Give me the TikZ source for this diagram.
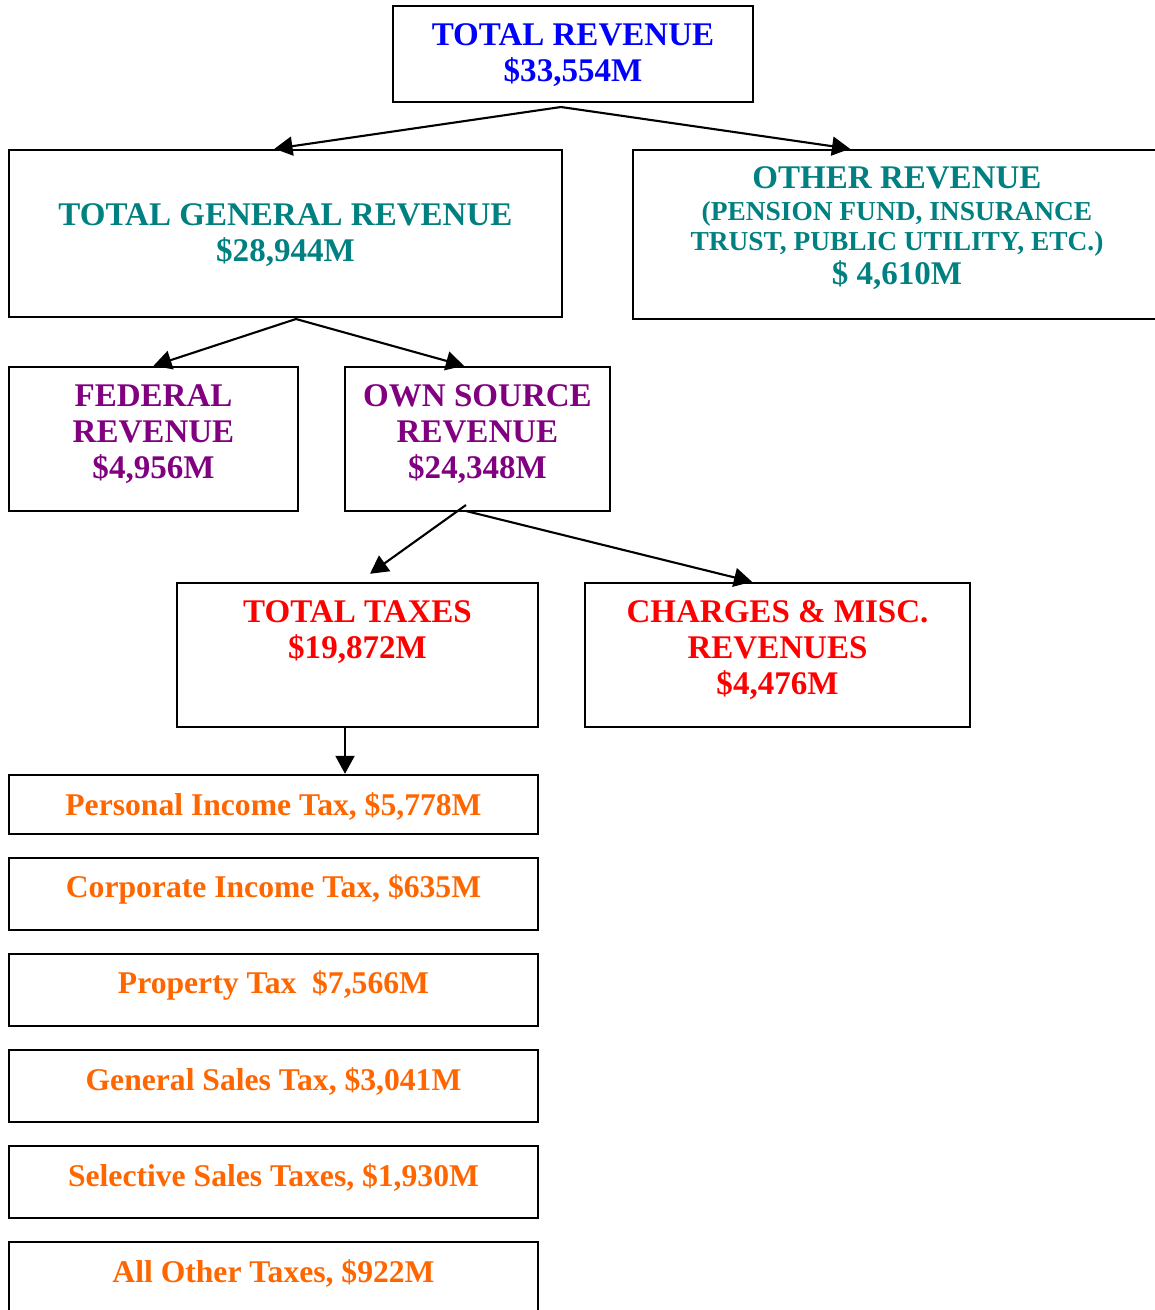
\documentclass[tikz,border=0pt]{standalone}
\usepackage{fontspec}
\setmainfont{Liberation Serif}
\usepackage{xcolor}
\usetikzlibrary{arrows.meta}
\definecolor{revblue}{RGB}{0,0,255}
\definecolor{revteal}{RGB}{0,128,128}
\definecolor{revpurple}{RGB}{128,0,128}
\definecolor{revred}{RGB}{255,0,0}
\definecolor{revorange}{RGB}{255,102,0}

\begin{document}
\begin{tikzpicture}[
    box/.style={draw, line width=0.7pt, inner sep=0pt},
    lbl/.style={align=center, inner sep=0pt, font=\bfseries\fontsize{9.4}{10.2}\selectfont},
    arr/.style={-{Triangle[length=0.18cm,width=0.19cm]}, line width=0.6pt}]
    \useasboundingbox (0,0) rectangle (11.54,-13.10);

    % top levels
    \node[box, minimum width=3.60cm, minimum height=0.96cm] (totrev) at (5.73,-0.54) {};
    \node[lbl, revblue] (totrevlbl) at (5.73,-0.55) {TOTAL REVENUE\\\$33,554M};

    \node[box, minimum width=5.53cm, minimum height=1.67cm] (genrev) at (2.855,-2.335) {};
    \node[lbl, revteal] (genrevlbl) at (2.855,-2.35) {TOTAL GENERAL REVENUE\\\$28,944M};

    \node[box, minimum width=5.27cm, minimum height=1.69cm] (othrev) at (8.965,-2.345) {};
    \node[lbl, revteal] (othrevlbl) at (8.97,-2.28) {OTHER REVENUE\\[-1pt]
        {\fontsize{7.8}{8.4}\selectfont (PENSION FUND, INSURANCE}\\[-1.6pt]
        {\fontsize{7.8}{8.4}\selectfont TRUST, PUBLIC UTILITY, ETC.)}\\[-0.6pt]
        \$ 4,610M};

    \node[box, minimum width=2.89cm, minimum height=1.44cm] (fed) at (1.535,-4.39) {};
    \node[lbl, revpurple] (fedlbl) at (1.535,-4.34) {FEDERAL\\REVENUE\\\$4,956M};

    \node[box, minimum width=2.65cm, minimum height=1.44cm] (own) at (4.775,-4.39) {};
    \node[lbl, revpurple] (ownlbl) at (4.775,-4.34) {OWN SOURCE\\REVENUE\\\$24,348M};

    \node[box, minimum width=3.61cm, minimum height=1.44cm] (totax) at (3.575,-6.55) {};
    \node[lbl, revred] (totaxlbl) at (3.575,-6.32) {TOTAL TAXES\\\$19,872M};

    \node[box, minimum width=3.85cm, minimum height=1.44cm] (chg) at (7.775,-6.55) {};
    \node[lbl, revred] (chglbl) at (7.775,-6.50) {CHARGES \& MISC.\\REVENUES\\\$4,476M};

    % tax boxes
    \foreach \i/\yc/\h/\ty/\txt in {
        1/8.045/0.59/8.06/{Personal Income Tax, \$5,778M},
        2/8.94/0.72/8.89/{Corporate Income Tax, \$635M},
        3/9.90/0.72/9.85/{Property Tax\ \ \$7,566M},
        4/10.86/0.72/10.81/{General Sales Tax, \$3,041M},
        5/11.82/0.72/11.77/{Selective Sales Taxes, \$1,930M},
        6/12.81/0.78/12.73/{All Other Taxes, \$922M}} {
        \node[box, minimum width=5.29cm, minimum height=\h cm] (tax\i) at (2.735,-\yc) {};
        \node[lbl, revorange, font=\bfseries\fontsize{9}{10}\selectfont] (tax\i lbl) at (2.735,-\ty) {\txt};
    }

    % connectors
    \coordinate (totrevfork) at (5.61,-1.07);
    \draw[arr] (totrevfork) -- ([xshift=-0.11cm]genrev.north);
    \draw[arr] (totrevfork) -- ([xshift=-0.465cm]othrev.north);

    \coordinate (genrevfork) at (2.96,-3.19);
    \draw[arr] (genrevfork) -- (fed.north);
    \draw[arr] (genrevfork) -- ([xshift=-0.135cm]own.north);

    \coordinate (ownforka) at (4.66,-5.05);
    \coordinate (ownforkb) at (4.66,-5.11);
    \draw[arr] (ownforka) -- ([xshift=0.125cm,yshift=0.08cm]totax.north);
    \draw[arr] (ownforkb) -- ([xshift=-0.255cm]chg.north);

    \draw[arr] ([xshift=-0.125cm]totax.south) -- ([xshift=-0.125cm]totax.south |- tax1.north);
\end{tikzpicture}
\end{document}
